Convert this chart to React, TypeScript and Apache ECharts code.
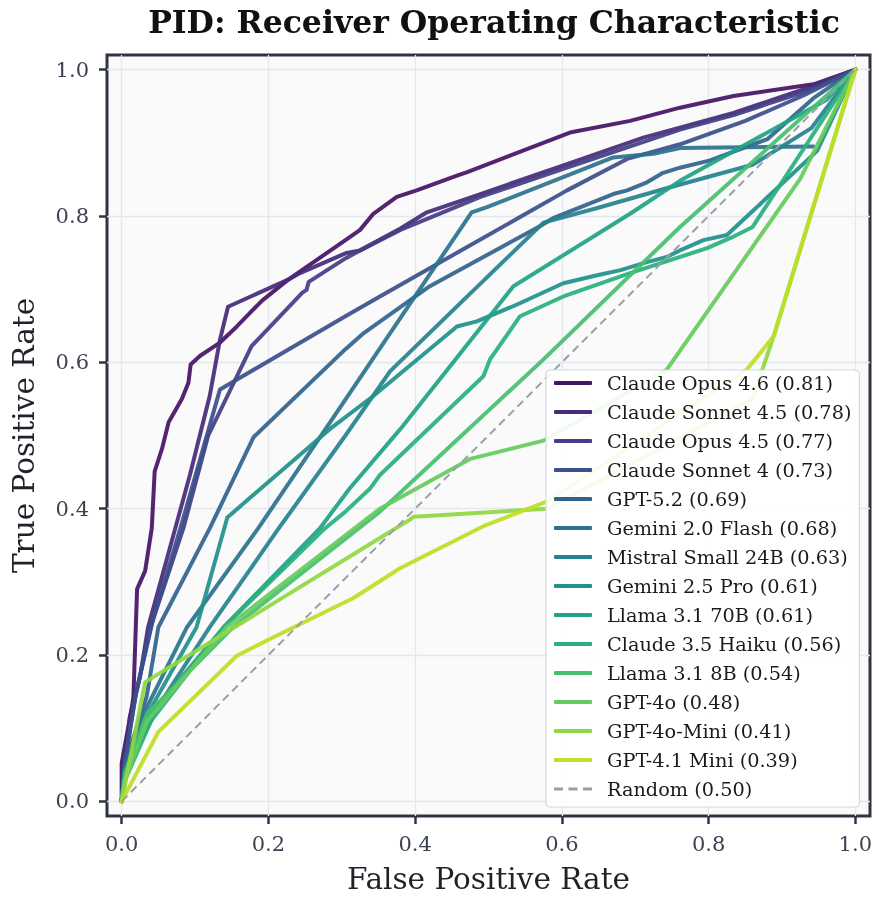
import React, { useEffect, useRef } from "react";
import * as echarts from "echarts";

const MODELS = [
  "Claude Opus 4.6",
  "Claude Sonnet 4.5",
  "Claude Opus 4.5",
  "Claude Sonnet 4",
  "GPT-5.2",
  "Gemini 2.0 Flash",
  "Mistral Small 24B",
  "Gemini 2.5 Pro",
  "Llama 3.1 70B",
  "Claude 3.5 Haiku",
  "Llama 3.1 8B",
  "GPT-4o",
  "GPT-4o-Mini",
  "GPT-4.1 Mini",
];
const AUCS = [0.81, 0.78, 0.77, 0.73, 0.69, 0.68, 0.63, 0.61, 0.61, 0.56, 0.54, 0.48, 0.41, 0.39];
const COLORS = [
  "#471365", "#472a7a", "#433e85", "#3c508b", "#33638d", "#2c728e", "#26828e",
  "#21918c", "#20a386", "#2ab07f", "#46c06f", "#65cb5e", "#90d743", "#bddf26",
];
const TICKS = [0, 0.2, 0.4, 0.6, 0.8, 1.0];

const opus46 = [[0,0],[0,0.052],[0.014,0.129],[0.016,0.143],[0.021,0.29],[0.032,0.315],[0.041,0.373],[0.045,0.451],[0.055,0.482],[0.064,0.518],[0.082,0.55],[0.091,0.572],[0.094,0.597],[0.107,0.609],[0.134,0.627],[0.157,0.649],[0.186,0.679],[0.191,0.684],[0.227,0.713],[0.305,0.767],[0.325,0.781],[0.343,0.803],[0.375,0.826],[0.402,0.835],[0.457,0.855],[0.471,0.86],[0.611,0.914],[0.693,0.93],[0.761,0.948],[0.834,0.964],[0.943,0.98],[1,1]];
const sonnet45 = [[0,0],[0.005,0.058],[0.011,0.115],[0.025,0.17],[0.036,0.238],[0.073,0.373],[0.093,0.446],[0.12,0.554],[0.134,0.631],[0.145,0.676],[0.227,0.713],[0.243,0.722],[0.305,0.749],[0.325,0.753],[0.38,0.783],[0.416,0.805],[0.489,0.83],[0.607,0.871],[0.711,0.907],[0.834,0.941],[0.935,0.975],[1,1]];
const opus45 = [[0,0],[0.004,0.05],[0.018,0.14],[0.04,0.24],[0.084,0.373],[0.118,0.5],[0.177,0.622],[0.246,0.695],[0.252,0.699],[0.255,0.71],[0.305,0.742],[0.325,0.753],[0.38,0.781],[0.489,0.826],[0.607,0.866],[0.761,0.918],[0.834,0.938],[0.935,0.971],[1,1]];
const sonnet4 = [[0,0],[0.005,0.06],[0.02,0.15],[0.043,0.25],[0.08,0.373],[0.134,0.563],[0.305,0.663],[0.352,0.69],[0.607,0.835],[0.689,0.878],[0.761,0.898],[0.85,0.93],[0.93,0.965],[1,1]];
const gpt52 = [[0,0],[0.004,0.05],[0.034,0.143],[0.05,0.238],[0.12,0.373],[0.18,0.498],[0.305,0.618],[0.33,0.64],[0.42,0.704],[0.57,0.786],[0.588,0.797],[0.67,0.83],[0.689,0.835],[0.716,0.846],[0.738,0.859],[0.761,0.866],[0.802,0.876],[0.88,0.905],[0.943,0.961],[1,1]];
const gemini20Flash = [[0,0],[0.004,0.04],[0.03,0.12],[0.089,0.238],[0.186,0.373],[0.284,0.518],[0.477,0.805],[0.498,0.812],[0.67,0.88],[0.725,0.885],[0.761,0.893],[0.943,0.895]];
const mistralSmall = [[0,0],[0.005,0.04],[0.05,0.13],[0.12,0.238],[0.214,0.373],[0.305,0.5],[0.366,0.588],[0.575,0.791],[0.652,0.812],[0.75,0.84],[0.86,0.87],[0.94,0.92],[1,1]];
const gemini25Pro = [[0,0],[0.004,0.04],[0.03,0.11],[0.102,0.238],[0.144,0.388],[0.284,0.509],[0.343,0.554],[0.457,0.649],[0.484,0.656],[0.539,0.679],[0.602,0.708],[0.648,0.719],[0.68,0.726],[0.716,0.737],[0.743,0.744],[0.761,0.753],[0.793,0.767],[0.825,0.774],[0.948,0.889],[1,1]];
const llama70b = [[0,0],[0.005,0.04],[0.04,0.12],[0.139,0.238],[0.27,0.373],[0.311,0.428],[0.38,0.509],[0.534,0.704],[0.693,0.803],[0.761,0.848],[0.961,0.959],[1,1]];
const haiku35 = [[0,0],[0.005,0.03],[0.04,0.11],[0.139,0.238],[0.277,0.373],[0.305,0.396],[0.339,0.428],[0.352,0.446],[0.493,0.581],[0.502,0.604],[0.543,0.663],[0.602,0.69],[0.693,0.722],[0.798,0.756],[0.83,0.77],[0.86,0.785],[1,1]];
const llama8b = [[0,0],[0.005,0.04],[0.035,0.12],[0.152,0.238],[0.352,0.396],[0.575,0.604],[0.761,0.785],[1,1]];
const gpt4o = [[0,0],[0.005,0.03],[0.035,0.11],[0.143,0.238],[0.352,0.4],[0.475,0.468],[0.575,0.493],[0.743,0.59],[0.925,0.851],[1,1]];
const gpt4oMini = [[0,0],[0.032,0.163],[0.352,0.36],[0.393,0.385],[0.398,0.389],[0.58,0.4],[0.86,0.55],[0.89,0.64],[1,1]];
const gpt41Mini = [[0,0],[0.05,0.095],[0.157,0.199],[0.202,0.222],[0.316,0.278],[0.38,0.319],[0.493,0.376],[0.58,0.41],[0.852,0.59],[0.889,0.636],[1,1]];
const randomLine = [[0,0],[1,1]];

const CURVES = [opus46, sonnet45, opus45, sonnet4, gpt52, gemini20Flash, mistralSmall, gemini25Pro, llama70b, haiku35, llama8b, gpt4o, gpt4oMini, gpt41Mini];

const FONT = "DejaVu Serif";
const RANDOM_NAME = "Random (0.50)";
const DASH_ICON = "path://M0,0h9v3h-9z M14.5,0h9v3h-9z M29,0h9v3h-9z";

export default function App() {
  const ref = useRef<HTMLDivElement>(null);
  useEffect(() => {
    if (!ref.current) return;
    const chart = echarts.init(ref.current, undefined, { renderer: "svg" });
    const names = MODELS.map((m, i) => `${m} (${AUCS[i].toFixed(2)})`);
    const series: any[] = CURVES.map((c, i) => ({
      name: names[i],
      type: "line",
      data: c,
      symbol: "none",
      showSymbol: false,
      silent: true,
      lineStyle: { width: 4, color: COLORS[i], opacity: 0.93, cap: "round", join: "round" },
      itemStyle: { color: COLORS[i] },
    }));
    series.push({
      name: RANDOM_NAME,
      type: "line",
      data: randomLine,
      symbol: "none",
      silent: true,
      lineStyle: { width: 2, color: "#9a9ea8", type: [8, 5] },
      itemStyle: { color: "#9a9ea8" },
    });
    const axisCommon = {
      type: "value",
      min: -0.02,
      max: 1.02,
      axisLine: { show: false, onZero: false },
      axisTick: { show: true, length: 8, customValues: TICKS, lineStyle: { color: "#2e3440", width: 2.5 } },
      splitLine: { show: true, lineStyle: { color: "#e4e7ec", width: 1.3 } },
      nameLocation: "middle",
      nameTextStyle: { fontFamily: FONT, fontSize: 29.5, color: "#1f2229" },
    };
    chart.setOption({
      animation: false,
      title: {
        text: "PID: Receiver Operating Characteristic",
        left: 489,
        top: 0,
        textAlign: "center",
        textStyle: { fontFamily: FONT, fontSize: 31.5, fontWeight: "bold", color: "#111" },
      },
      grid: {
        left: 107,
        right: 9,
        top: 55,
        bottom: 79,
        show: true,
        backgroundColor: "#fafafa",
        borderColor: "#2e3440",
        borderWidth: 3,
      },
      xAxis: {
        ...axisCommon,
        name: "False Positive Rate",
        nameGap: 48,
        axisLabel: {
          customValues: TICKS,
          formatter: (v: number) => v.toFixed(1),
          fontFamily: FONT,
          fontSize: 21,
          color: "#3b4252",
          margin: 17,
        },
      },
      yAxis: {
        ...axisCommon,
        name: "True Positive Rate",
        nameGap: 68,
        axisLabel: {
          customValues: TICKS,
          formatter: (v: number) => v.toFixed(1),
          fontFamily: FONT,
          fontSize: 21,
          color: "#3b4252",
          margin: 18,
        },
      },
      legend: {
        orient: "vertical",
        left: 546,
        top: 370,
        itemWidth: 38,
        itemHeight: 4,
        itemGap: 9,
        padding: [3, 8, 8, 8],
        backgroundColor: "rgba(255,255,255,0.9)",
        borderColor: "#d5d8de",
        borderWidth: 1.2,
        borderRadius: 4,
        textStyle: { fontFamily: FONT, fontSize: 19.3, color: "#1a1a1a", padding: [0, 0, 0, 10], lineHeight: 20 },
        data: [
          ...names.map((n) => ({ name: n, icon: "roundRect" })),
          { name: RANDOM_NAME, icon: DASH_ICON },
        ],
      },
      series,
    });
    return () => chart.dispose();
  }, []);
  return <div ref={ref} style={{ position: "fixed", left: 0, top: 0, width: 879, height: 899 }} />;
}
